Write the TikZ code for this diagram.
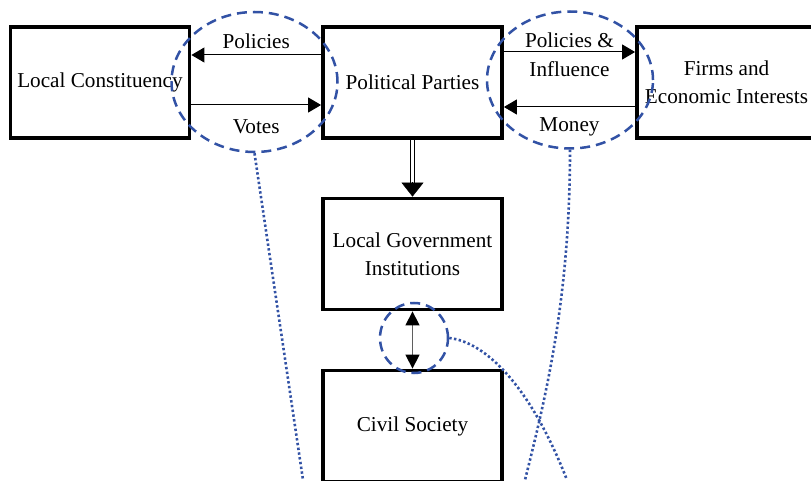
\documentclass[tikz,border=0pt]{standalone}
\usepackage{fontspec}
\setmainfont{Liberation Serif}
\usepackage{tikz}
\usetikzlibrary{arrows.meta, shapes.geometric}
\definecolor{ringblue}{RGB}{50,82,165}
\definecolor{stemgray}{RGB}{95,95,95}

\begin{document}
\begin{tikzpicture}[x=1pt, y=1pt,
    box/.style={draw=black, line width=3.8pt, minimum width=179pt, minimum height=111pt,
        inner sep=0pt, align=center, font=\fontsize{21.2}{28}\selectfont},
    lab/.style={inner sep=0pt, font=\fontsize{21.2}{28}\selectfont},
    flow/.style={line width=1pt, -{Triangle[length=13pt, width=15pt]}},
    ring/.style={draw=ringblue, ellipse, line width=2.5pt, dash pattern=on 10pt off 6pt, inner sep=0pt},
    trail/.style={draw=ringblue, line width=2.6pt, dash pattern=on 2.4pt off 2.4pt}]
    \useasboundingbox (0,0) rectangle (811,480);
    \clip (0,0) rectangle (811,480);

    \node[box] (lc) at (100,397.5) {Local Constituency};
    \node[box] (pp) at (412.5,397.5) {Political Parties};
    \node[box] (fei) at (726.5,397.5) {Firms and\\Economic Interests};
    \node[box] (lgi) at (412.5,226) {Local Government\\Institutions};
    \node[box] (cs) at (412.5,54) {Civil Society};

    \draw[flow] ([yshift=27.5]pp.west) -- node[lab, midway, yshift=14] (plab) {Policies} ([yshift=27.5]lc.east);
    \draw[flow] ([yshift=-22.5]lc.east) -- node[lab, midway, yshift=-22] (vlab) {Votes} ([yshift=-22.5]pp.west);
    \draw[flow] ([yshift=30.5]pp.east) -- node[lab, midway, yshift=12] (pilab) {Policies \&}
        node[lab, midway, yshift=-17] (inlab) {Influence} ([yshift=30.5]fei.west);
    \draw[flow] ([yshift=-24.5]fei.west) -- node[lab, midway, yshift=-20] (mlab) {Money} ([yshift=-24.5]pp.east);

    \draw[line width=1pt] ([xshift=-1.7]pp.south) -- ([xshift=-1.7, yshift=13]lgi.north);
    \draw[line width=1pt] ([xshift=1.7]pp.south) -- ([xshift=1.7, yshift=13]lgi.north);
    \draw[line width=0.5pt, -{Triangle[length=14pt, width=22pt]}] ([yshift=14.5]lgi.north) -- (lgi.north);
    \draw[stemgray, line width=1.4pt, {Triangle[length=14pt, width=14pt, color=black]}-{Triangle[length=14pt, width=14pt, color=black]}] (lgi.south) -- (cs.north);

    \node[ring, minimum width=166pt, minimum height=140pt] (vring) at (254.5,398) {};
    \node[ring, minimum width=166pt, minimum height=137pt] (mring) at (570,400) {};
    \node[ring, minimum width=68pt, minimum height=70pt] (sring) at (414,142) {};

    \coordinate (vend) at (303,0);
    \coordinate (mend) at (525,0);
    \coordinate (send) at (567,0);
    \draw[trail] (vring.south) -- (vend);
    \draw[trail] (mring.south) .. controls (570,180) and (545,80) .. (mend);
    \draw[trail] (sring.east) .. controls (485,138) and (530,95) .. (send);
\end{tikzpicture}
\end{document}
